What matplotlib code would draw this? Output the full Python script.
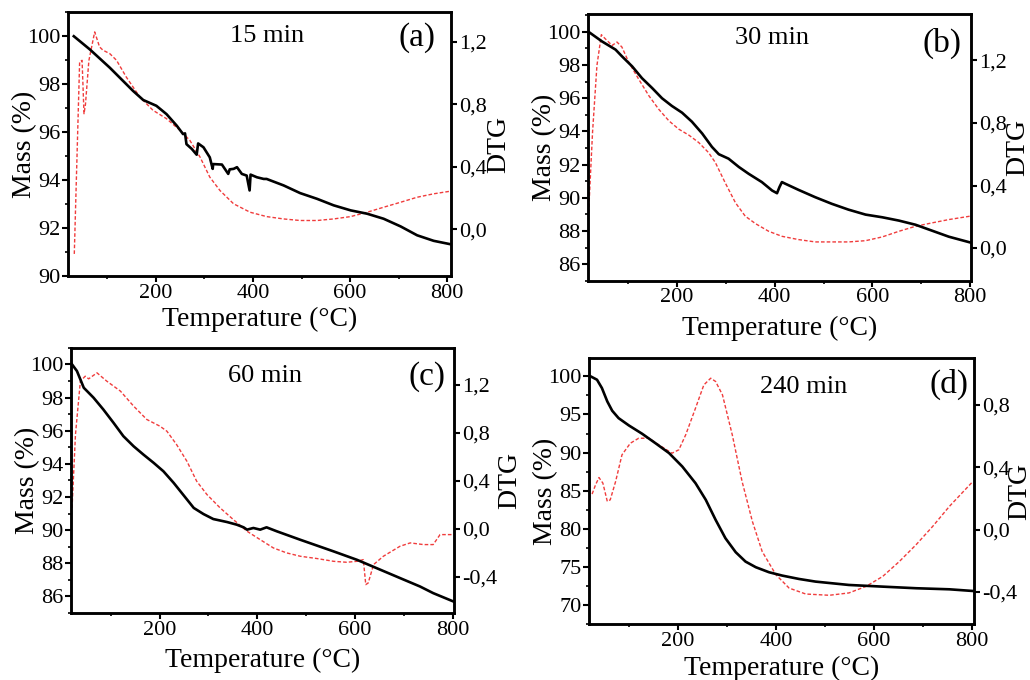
import numpy as np
import matplotlib
matplotlib.use("Agg")
import matplotlib.pyplot as plt
from matplotlib.ticker import MultipleLocator, AutoMinorLocator, FuncFormatter

plt.rcParams['font.family'] = ['Liberation Serif', 'DejaVu Serif']

#Panel (a) - 15 min
t_mass_a = [31, 64, 105, 153, 174, 201, 222, 243, 256, 260, 263, 274, 284, 287, 298, 311, 317, 318, 336,
            349, 352, 360, 367, 377, 387, 393, 395, 408, 422, 428, 463, 497, 532, 566, 601, 635, 669,
            704, 738, 772, 806]
mass_a = [100.0, 99.45, 98.69, 97.72, 97.34, 97.10, 96.75, 96.27, 95.92, 95.95, 95.5, 95.3, 95.06, 95.53,
          95.37, 94.95, 94.47, 94.67, 94.65, 94.26, 94.45, 94.47, 94.54, 94.26, 94.19, 93.57, 94.23,
          94.12, 94.05, 94.05, 93.78, 93.46, 93.22, 92.95, 92.74, 92.60, 92.39, 92.07, 91.70, 91.47, 91.33]
t_dtg_a = [32, 43, 48, 52, 55, 62, 74, 84, 91, 105, 119, 139, 167, 194, 222, 250, 270, 291, 311, 332,
           360, 394, 428, 463, 497, 532, 566, 601, 635, 669, 704, 738, 772, 807]
dtg_a = [-0.158, 1.072, 1.082, 0.74, 0.80, 1.08, 1.264, 1.168, 1.147, 1.125, 1.082, 0.975, 0.847, 0.762,
         0.708, 0.633, 0.569, 0.462, 0.334, 0.248, 0.163, 0.109, 0.081, 0.066, 0.056, 0.056, 0.066,
         0.081, 0.109, 0.141, 0.173, 0.205, 0.227, 0.244]

#Panel (b) - 30 min
t_mass_b = [20, 47, 75, 88, 109, 129, 150, 170, 190, 211, 231, 252, 272, 286, 306, 327, 347, 374, 395,
            405, 410, 415, 422, 449, 483, 517, 551, 586, 620, 654, 688, 722, 756, 800]
mass_b = [100.0, 99.43, 98.93, 98.53, 97.92, 97.21, 96.61, 96.0, 95.54, 95.13, 94.59, 93.88, 93.07,
          92.63, 92.36, 91.86, 91.45, 90.95, 90.44, 90.28, 90.65, 90.95, 90.85, 90.48, 90.04, 89.64,
          89.29, 88.99, 88.83, 88.63, 88.38, 88.02, 87.66, 87.31]
t_dtg_b = [20, 28, 37, 46, 54, 68, 78, 88, 102, 122, 143, 163, 184, 204, 225, 245, 265, 279, 299, 320,
           340, 361, 388, 415, 449, 483, 517, 551, 586, 620, 654, 688, 722, 756, 800]
dtg_b = [0.225, 0.74, 1.168, 1.365, 1.339, 1.296, 1.318, 1.286, 1.189, 1.082, 0.975, 0.889, 0.814,
         0.761, 0.722, 0.675, 0.611, 0.547, 0.418, 0.29, 0.204, 0.156, 0.107, 0.075, 0.054, 0.039,
         0.039, 0.039, 0.047, 0.071, 0.107, 0.139, 0.161, 0.182, 0.204]

#Panel (c) - 60 min
t_mass_c = [21, 31, 45, 65, 85, 106, 126, 147, 167, 188, 208, 229, 251, 270, 290, 310, 338, 358, 372,
            379, 392, 406, 419, 440, 488, 556, 604, 644, 692, 733, 760, 801]
mass_c = [100.0, 99.6, 98.59, 97.99, 97.28, 96.47, 95.67, 95.06, 94.56, 94.06, 93.55, 92.85, 92.04,
          91.34, 90.97, 90.67, 90.49, 90.33, 90.17, 90.03, 90.13, 90.03, 90.17, 89.93, 89.42, 88.72,
          88.21, 87.71, 87.11, 86.60, 86.20, 85.70]
t_dtg_c = [21, 28, 38, 48, 55, 72, 92, 120, 147, 174, 201, 215, 235, 256, 276, 297, 324, 351, 379, 406,
           433, 460, 488, 522, 556, 583, 604, 617, 622, 627, 638, 658, 692, 713, 740, 760, 774, 800]
dtg_c = [0.174, 0.784, 1.228, 1.269, 1.247, 1.297, 1.228, 1.145, 1.02, 0.909, 0.853, 0.812, 0.70,
         0.562, 0.396, 0.285, 0.174, 0.077, -0.02, -0.09, -0.159, -0.20, -0.228, -0.247, -0.27,
         -0.278, -0.27, -0.256, -0.464, -0.45, -0.297, -0.228, -0.145, -0.117, -0.131, -0.131,
         -0.048, -0.048]

#Panel (d) - 240 min
t_mass_d = [22, 35, 45, 56, 66, 79, 100, 127, 154, 182, 209, 236, 257, 277, 297, 318, 338, 359, 386,
            413, 447, 481, 515, 549, 618, 686, 754, 802]
mass_d = [100.0, 99.56, 98.47, 96.71, 95.49, 94.52, 93.56, 92.47, 91.24, 89.93, 88.17, 85.98, 83.79,
          81.17, 78.76, 76.92, 75.69, 74.95, 74.29, 73.85, 73.41, 73.06, 72.84, 72.62, 72.40, 72.19,
          72.05, 71.83]
t_dtg_d = [25, 32, 39, 47, 56, 62, 73, 86, 103, 120, 141, 161, 188, 202, 216, 236, 253, 267, 277, 291,
           311, 331, 352, 372, 400, 427, 461, 509, 549, 584, 618, 652, 686, 720, 754, 802]
dtg_d = [0.228, 0.287, 0.334, 0.298, 0.181, 0.191, 0.309, 0.48, 0.554, 0.586, 0.586, 0.544, 0.49,
         0.512, 0.608, 0.779, 0.928, 0.971, 0.95, 0.864, 0.608, 0.309, 0.053, -0.14, -0.289, -0.375,
         -0.413, -0.421, -0.406, -0.364, -0.30, -0.204, -0.097, 0.021, 0.149, 0.309]

panels = [
    dict(pos=[0.066, 0.594, 0.372, 0.388], tm=t_mass_a, m=mass_a, td=t_dtg_a, d=dtg_a,
         xlim=(19, 808), ylim=(90, 101), ystep=2, dlim=(-0.30, 1.39), xpad=3, dpad=0,
         title="15 min", tpos=(0.52, 0.91), tag="(a)", gpos=(0.91, 0.905)),
    dict(pos=[0.571, 0.587, 0.372, 0.393], tm=t_mass_b, m=mass_b, td=t_dtg_b, d=dtg_b,
         xlim=(19, 802), ylim=(85, 101.1), ystep=2, dlim=(-0.21, 1.5), xpad=6, dpad=-1,
         title="30 min", tpos=(0.48, 0.91), tag="(b)", gpos=(0.923, 0.89)),
    dict(pos=[0.069, 0.0985, 0.372, 0.390], tm=t_mass_c, m=mass_c, td=t_dtg_c, d=dtg_c,
         xlim=(19, 803), ylim=(85, 101), ystep=2, dlim=(-0.70, 1.505), xpad=6, dpad=0,
         title="60 min", tpos=(0.507, 0.893), tag="(c)", gpos=(0.93, 0.893)),
    dict(pos=[0.572, 0.0824, 0.374, 0.391], tm=t_mass_d, m=mass_d, td=t_dtg_d, d=dtg_d,
         xlim=(19, 805), ylim=(67.5, 102.4), ystep=5, dlim=(-0.605, 1.10), xpad=4, dpad=-7,
         title="240 min", tpos=(0.557, 0.893), tag="(d)", gpos=(0.933, 0.90)),
]

comma = FuncFormatter(lambda v, p: ("%.1f" % v).replace(".", ",").replace("-0,0", "0,0"))

fig = plt.figure(figsize=(10.3, 6.8), dpi=100)

for p in panels:
    ax = fig.add_axes(p["pos"])
    ax2 = ax.twinx()
    ax.set_zorder(ax2.get_zorder() + 1)
    ax.patch.set_visible(False)

    ax2.plot(p["td"], p["d"], color="#f03c3c", lw=1.0, dashes=(2.6, 1.5))
    ax.plot(p["tm"], p["m"], color="black", lw=1.9)

    ax.set_xlim(*p["xlim"])
    ax.set_ylim(*p["ylim"])
    ax2.set_ylim(*p["dlim"])

    ax.xaxis.set_major_locator(MultipleLocator(200))
    ax.xaxis.set_minor_locator(AutoMinorLocator(2))
    ax.yaxis.set_major_locator(MultipleLocator(p["ystep"]))
    ax.yaxis.set_minor_locator(AutoMinorLocator(2))
    ax2.yaxis.set_major_locator(MultipleLocator(0.4))
    ax2.yaxis.set_major_formatter(comma)

    for a in (ax, ax2):
        for s in a.spines.values():
            s.set_linewidth(1.8)
        a.tick_params(which="major", direction="out", length=4, width=1.5, labelsize=16, pad=1.5)
        a.tick_params(which="minor", direction="out", length=2.5, width=1.2)

    ax.set_xlabel("Temperature (°C)", fontsize=20, labelpad=p["xpad"])
    ax.set_ylabel("Mass (%)", fontsize=20, labelpad=-7)
    ax2.set_ylabel("DTG", fontsize=20, labelpad=p["dpad"])

    ax.text(p["tpos"][0], p["tpos"][1], p["title"], transform=ax.transAxes, fontsize=19,
            ha="center", va="center")
    ax.text(p["gpos"][0], p["gpos"][1], p["tag"], transform=ax.transAxes, fontsize=24,
            ha="center", va="center")

fig.savefig("out.png", dpi=100)
